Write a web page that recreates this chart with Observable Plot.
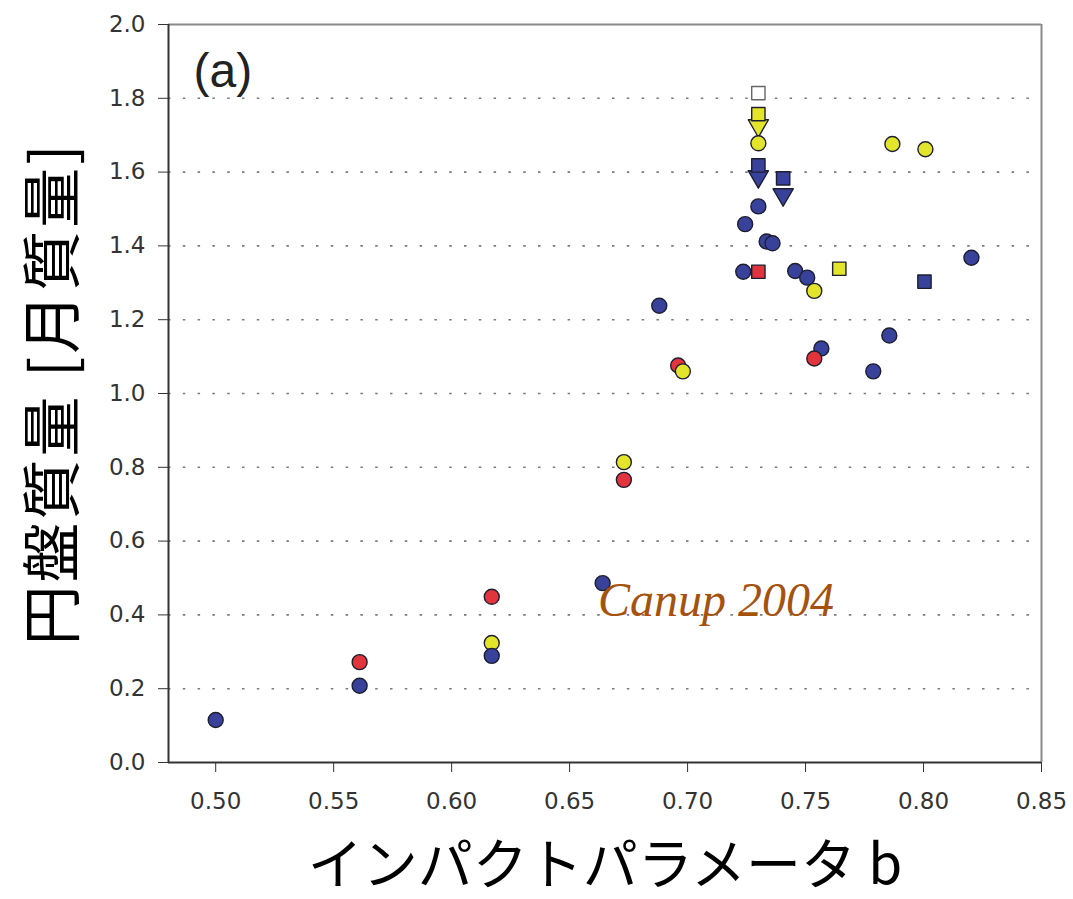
<!DOCTYPE html>
<html><head><meta charset="utf-8">
<script src="https://cdn.jsdelivr.net/npm/d3@7"></script>
<script src="https://cdn.jsdelivr.net/npm/@observablehq/plot@0.6"></script>
<style>body{margin:0;background:#fff}</style>
</head><body><div id="chart"></div>
<script>
// ---- data ----
const impactB = [0.500, 0.561, 0.561, 0.617, 0.617, 0.617, 0.664, 0.673, 0.673, 0.696,
                 0.698, 0.688, 0.7236, 0.730, 0.7244, 0.730, 0.7335, 0.7360, 0.7456, 0.7507,
                 0.7537, 0.7643, 0.7567, 0.7537, 0.7787, 0.7855, 0.8004, 0.8203, 0.7868, 0.8008,
                 0.730, 0.730, 0.730, 0.730, 0.730, 0.7405, 0.7405, 0.730];
const diskMass = [0.115, 0.208, 0.272, 0.449, 0.324, 0.289, 0.486, 0.814, 0.766, 1.076,
                  1.060, 1.238, 1.330, 1.330, 1.459, 1.507, 1.412, 1.407, 1.332, 1.314,
                  1.278, 1.338, 1.122, 1.095, 1.060, 1.157, 1.303, 1.368, 1.676, 1.662,
                  1.678, 1.757, 1.726, 1.618, 1.588, 1.583, 1.539, 1.814];
const series = ["blue","blue","red","red","yellow","blue","blue","yellow","red","red",
                "yellow","blue","blue","red","blue","blue","blue","blue","blue","blue",
                "yellow","yellow","blue","red","blue","blue","blue","blue","yellow","yellow",
                "yellow","yellow","yellow","blue","blue","blue","blue","white"];
const shapes = ["circle","circle","circle","circle","circle","circle","circle","circle","circle","circle",
                "circle","circle","circle","square","circle","circle","circle","circle","circle","circle",
                "circle","square","circle","circle","circle","circle","square","circle","circle","circle",
                "circle","square","triangle","square","triangle","square","triangle","square"];
const xTicks = [0.50, 0.55, 0.60, 0.65, 0.70, 0.75, 0.80, 0.85];
const yTicks = [0.0, 0.2, 0.4, 0.6, 0.8, 1.0, 1.2, 1.4, 1.6, 1.8, 2.0];
const gridLevels = [0.2, 0.4, 0.6, 0.8, 1.0, 1.2, 1.4, 1.6, 1.8];
const xLabel = "インパクトパラメータ b";
const yLabel = "円盤質量 [月質量]";
const panelLabel = "(a)";
const noteText = ["Canup 2004"];
const noteB = [0.662];
const noteMass = [0.398];

// ---- build table ----
const points = impactB.map((b, i) => ({b, m: diskMass[i], s: series[i], shape: shapes[i]}));
const order = {triangle: 0, square: 1, circle: 2};
points.sort((a, c) => order[a.shape] - order[c.shape]);
const notes = noteText.map((t, i) => ({t, b: noteB[i], m: noteMass[i]}));

const chart = Plot.plot({
  width: 1073,
  height: 899,
  marginLeft: 168,
  marginRight: 32,
  marginTop: 24,
  marginBottom: 137,
  style: {fontFamily: "DejaVu Sans", fontSize: "23px", background: "#fff"},
  x: {domain: [0.48, 0.85]},
  y: {domain: [0, 2.0]},
  color: {type: "ordinal", domain: ["blue", "red", "yellow", "white"], range: ["#38429a", "#e2343c", "#e2e52a", "#ffffff"]},
  symbol: {domain: ["circle", "square", "triangle"], range: ["circle", "square", "triangle"]},
  marks: [
    Plot.ruleY(gridLevels, {stroke: "#7a7a7a", strokeWidth: 1.6, strokeDasharray: "2.5,12.3"}),
    Plot.ruleY([2.0], {stroke: "#8a8a8a", strokeWidth: 2}),
    Plot.ruleX([0.85], {stroke: "#8a8a8a", strokeWidth: 2}),
    Plot.ruleX([0.48], {stroke: "#333", strokeWidth: 2}),
    Plot.ruleY([0], {stroke: "#333", strokeWidth: 2}),
    Plot.axisY({ticks: yTicks, tickSize: 10, tickPadding: 13, tickFormat: d3.format(".1f"), label: null, color: "#333"}),
    Plot.axisX({ticks: xTicks, tickSize: 10, tickPadding: 20, tickFormat: d3.format(".2f"), label: null, color: "#333"}),
    Plot.dot(points, {
      x: "b", y: "m", fill: {value: "s", scale: "color"}, symbol: "shape",
      rotate: d => d.shape === "triangle" ? 180 : 0,
      r: 7.5, stroke: d => d.s === "white" ? "#666" : "#1e1e30", strokeWidth: 1.4,
      strokeLinejoin: "round"
    }),
    Plot.text(notes, {x: "b", y: "m", text: "t", textAnchor: "start", lineAnchor: "bottom",
      fontFamily: "Liberation Serif", fontStyle: "italic", fontSize: 48, fill: "#a4520e"}),
    Plot.text([panelLabel], {frameAnchor: "top-left", dx: 25, dy: 47, textAnchor: "start", lineAnchor: "middle",
      fontFamily: "Liberation Sans", fontSize: 48, fill: "#222"}),
    Plot.text([yLabel], {frameAnchor: "left", dx: -114, rotate: -90, textAnchor: "middle", lineAnchor: "middle",
      fontFamily: "Noto Sans CJK JP", fontSize: 60, fill: "#000"}),
    Plot.text([xLabel], {frameAnchor: "bottom", dy: 104, textAnchor: "middle", lineAnchor: "middle",
      fontFamily: "Noto Sans CJK JP", fontSize: 55, fill: "#000"})
  ]
});
// slight letter spacing on the vertical axis title, as in the reference
d3.select(chart).selectAll("text").filter(function() { return this.textContent === yLabel; })
  .style("letter-spacing", "3px");
document.getElementById("chart").appendChild(chart);
</script>
</body></html>
